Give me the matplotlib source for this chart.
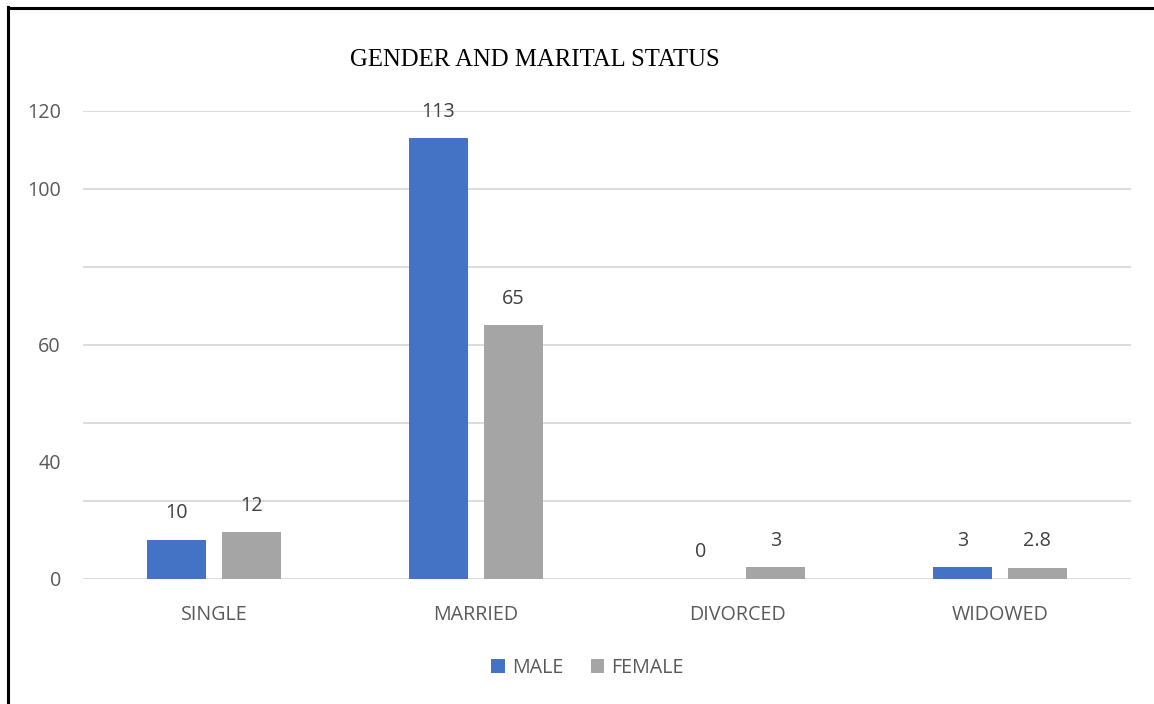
import matplotlib.pyplot as plt
from matplotlib.lines import Line2D
import numpy as np

# Survey counts by marital status
categories = ['SINGLE', 'MARRIED', 'DIVORCED', 'WIDOWED']
male = [10, 113, 0, 3]
female = [12, 65, 3, 2.8]

# y axis: grid every 20, labels as printed on the original axis
grid_values = [0, 20, 40, 60, 80, 100, 120]
ytick_values = [0, 30, 60, 100, 120]
ytick_labels = ['0', '40', '60', '100', '120']

BLUE = '#4472c4'
GREY = '#a5a5a5'
TEXT = '#595959'
SANS = 'Open Sans'
FS = 14.2


def main():
    fig = plt.figure(figsize=(11.54, 7.04), dpi=100)
    ax = fig.add_axes([0.0719, 0.1776, 0.9081, 0.6648])

    x = np.arange(len(categories))
    width = 0.225
    offset = 0.143

    b1 = ax.bar(x - offset, male, width, color=BLUE, label='MALE', zorder=3)
    b2 = ax.bar(x + offset, female, width, color=GREY, label='FEMALE', zorder=3)

    for bars, vals in ((b1, male), (b2, female)):
        for rect, v in zip(bars, vals):
            ax.annotate(f'{v:g}', (rect.get_x() + rect.get_width() / 2, v),
                        xytext=(0, 12), textcoords='offset points',
                        ha='center', va='bottom', fontsize=FS,
                        color='#404040', family=SANS)

    ax.set_xlim(-0.5, len(categories) - 0.5)
    ax.set_ylim(0, 120)

    for g in grid_values:
        ax.axhline(g, color='#d9d9d9', lw=1.3, zorder=1)

    ax.set_yticks(ytick_values)
    ax.set_yticklabels(ytick_labels)
    ax.set_xticks(x)
    ax.set_xticklabels(categories)
    ax.tick_params(axis='both', length=0, colors=TEXT, labelsize=FS)
    ax.tick_params(axis='y', pad=16)
    ax.tick_params(axis='x', pad=19)
    for lab in ax.get_xticklabels() + ax.get_yticklabels():
        lab.set_family(SANS)
    for s in ax.spines.values():
        s.set_visible(False)

    fig.text(0.4636, 0.915, 'GENDER AND MARITAL STATUS', ha='center', va='center',
             fontsize=17.8, family='Liberation Serif', color='black')

    leg = fig.legend(loc='center', bbox_to_anchor=(0.509, 0.051), ncol=2, frameon=False,
                     prop={'family': SANS, 'size': FS}, handlelength=0.7,
                     handleheight=0.7, columnspacing=1.4, handletextpad=0.35)
    for t in leg.get_texts():
        t.set_color(TEXT)

    # outer frame, cut off at the right and bottom edges
    fig.add_artist(Line2D([0.0065, 0.0065], [0.99, -0.01], color='black', lw=2.2))
    fig.add_artist(Line2D([0.0065, 1.01], [0.9885, 0.9885], color='black', lw=2.2))

    fig.savefig('out.png', dpi=100)


if __name__ == '__main__':
    main()
